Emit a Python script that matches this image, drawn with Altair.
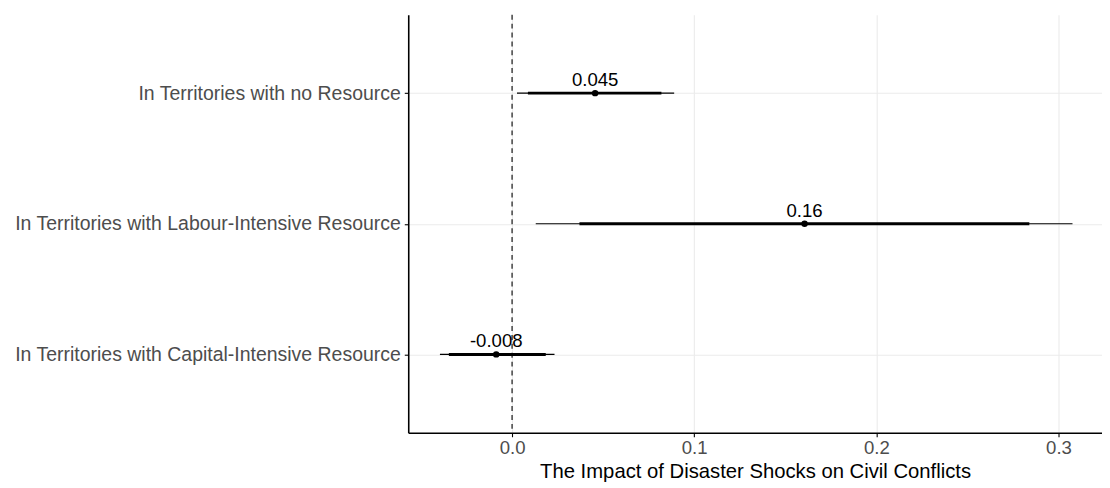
import altair as alt
import pandas as pd

terms = [
    "In Territories with no Resource",
    "In Territories with Labour-Intensive Resource",
    "In Territories with Capital-Intensive Resource",
]
estimates = [0.0456, 0.1606, -0.0087]
est_labels = ["0.045", "0.16", "-0.008"]
ci_outer_low = [0.0027, 0.013, -0.0396]
ci_outer_high = [0.089, 0.3077, 0.0233]
ci_inner_low = [0.0087, 0.037, -0.0347]
ci_inner_high = [0.082, 0.284, 0.0185]
x_ticks = [0.0, 0.1, 0.2, 0.3]

df = pd.DataFrame({
    "term": terms,
    "est": estimates,
    "lab": est_labels,
    "lo95": ci_outer_low,
    "hi95": ci_outer_high,
    "lo90": ci_inner_low,
    "hi90": ci_inner_high,
})

FONT = "Liberation Sans"
x_scale = alt.Scale(domain=[-0.057, 0.3239], nice=False, zero=False)
x_axis = alt.Axis(
    values=x_ticks, format=".1f", title="The Impact of Disaster Shocks on Civil Conflicts",
    titleFontSize=20.5, titleColor="black", titleFontWeight="normal", titleFont=FONT,
    titlePadding=4, labelPadding=2, labelFontSize=18.8,
)
y_enc = alt.Y(
    "term:N", sort=terms,
    scale=alt.Scale(type="point", padding=0.6),
    axis=alt.Axis(title=None, labelPadding=4, labelLimit=0, labelFontSize=19.7, grid=True),
)

base = alt.Chart(df)

vline = alt.Chart(pd.DataFrame({"z": [0.0]})).mark_rule(
    color="black", strokeWidth=1.1, strokeDash=[5, 4]
).encode(x=alt.X("z:Q", scale=x_scale, axis=x_axis))

thin = base.mark_rule(color="black", strokeWidth=1.1).encode(
    x=alt.X("lo95:Q", scale=x_scale, axis=x_axis), x2="hi95:Q", y=y_enc
)
thick = base.mark_rule(color="black", strokeWidth=3).encode(
    x=alt.X("lo90:Q", scale=x_scale), x2="hi90:Q", y=y_enc
)
pts = base.mark_circle(color="black", size=42, opacity=1).encode(
    x=alt.X("est:Q", scale=x_scale), y=y_enc
)
txt = base.mark_text(
    color="black", fontSize=18.8, font=FONT, baseline="alphabetic", dy=-7
).encode(x=alt.X("est:Q", scale=x_scale), y=y_enc, text="lab:N")

chart = alt.layer(vline, thin, thick, pts, txt).properties(
    width=702, height=423,
    padding={"left": 6, "top": 3, "right": 0, "bottom": 0},
).configure_view(stroke=None).configure_axis(
    domainColor="black", domainWidth=1.6, tickColor="black", tickSize=4, tickWidth=1.1,
    gridColor="#EBEBEB", gridWidth=1.1, labelColor="#4D4D4D", labelFontSize=15,
    labelFont=FONT,
)

chart.save("out.html", embed_options={"renderer": "svg", "actions": False})
